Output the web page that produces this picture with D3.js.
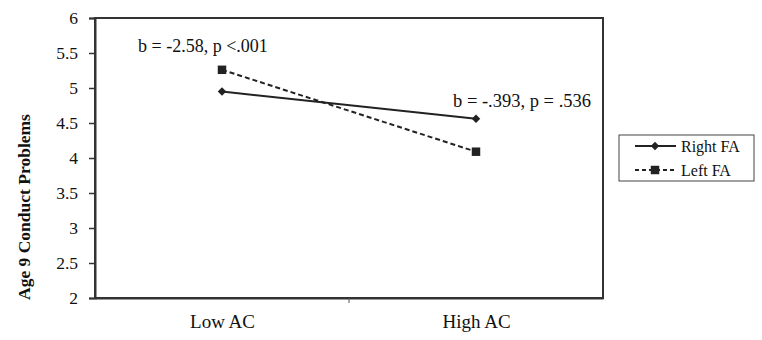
<!DOCTYPE html>
<html>
<head>
<meta charset="utf-8">
<script src="https://cdn.jsdelivr.net/npm/d3@7"></script>
<style>
  body { margin: 0; background: #fff; }
  svg { font-family: "Liberation Serif", "Times New Roman", serif; }
</style>
</head>
<body>
<svg id="chart" width="762" height="340"></svg>
<script>
// data
const categories = ['Low AC', 'High AC']
const rightFA = [4.95, 4.56]
const leftFA = [5.26, 4.09]
const yTicks = [2, 2.5, 3, 3.5, 4, 4.5, 5, 5.5, 6]
const seriesNames = ['Right FA', 'Left FA']
const notes = ['b = -2.58, p <.001', 'b = -.393, p = .536']

const svg = d3.select('#chart')
const plot = {left: 95, right: 603, top: 18, bottom: 298}
const ink = '#222'
const serif = '"Liberation Serif", "Times New Roman", serif'

let x = d3.scalePoint().domain(categories).range([plot.left, plot.right]).padding(0.5)
let xb = d3.scaleBand().domain(categories).range([plot.left, plot.right])
let y = d3.scaleLinear().domain([2, 6]).range([plot.bottom, plot.top])

// plot area border
svg.append('rect')
  .attr('x', plot.left).attr('y', plot.top)
  .attr('width', plot.right - plot.left).attr('height', plot.bottom - plot.top)
  .attr('fill', 'none').attr('stroke', '#333').attr('stroke-width', 2)

// y axis
let ya = svg.append('g')
  .attr('transform', `translate(${plot.left},0)`)
  .call(d3.axisLeft(y).tickValues(yTicks).tickSize(6).tickPadding(11).tickFormat(d3.format('')))
ya.select('.domain').attr('stroke', '#333').attr('stroke-width', 2)
ya.selectAll('.tick line').attr('stroke', '#333').attr('stroke-width', 1.5)
ya.selectAll('text').attr('font-size', 17.5).attr('font-family', serif).attr('fill', '#111')

// x axis: labels at centers, tick between categories
let xa = svg.append('g')
  .attr('transform', `translate(0,${plot.bottom})`)
  .call(d3.axisBottom(x).tickSize(0).tickPadding(17))
xa.select('.domain').attr('stroke', '#333').attr('stroke-width', 2)
xa.selectAll('text').attr('font-size', 19).attr('font-family', serif).attr('fill', '#111')
svg.append('line')
  .attr('x1', xb(categories[1])).attr('x2', xb(categories[1]))
  .attr('y1', plot.bottom).attr('y2', plot.bottom + 5)
  .attr('stroke', '#555').attr('stroke-width', 1)

// y title
svg.append('text')
  .attr('transform', `translate(26,207) rotate(-90)`)
  .attr('text-anchor', 'middle')
  .attr('dominant-baseline', 'middle')
  .attr('font-weight', 'bold')
  .attr('font-size', 17.5)
  .attr('fill', '#111')
  .text('Age 9 Conduct Problems')

// series
let series = [
  {name: seriesNames[0], values: rightFA, dash: null, shape: 'diamond'},
  {name: seriesNames[1], values: leftFA, dash: '5,3', shape: 'square'}
]

let line = d3.line()
  .x((d, i) => x(categories[i]))
  .y((d) => y(d))

function marker (g, shape, cx, cy) {
  if (shape === 'diamond') {
    g.append('path')
      .attr('d', d3.symbol(d3.symbolSquare, 36)())
      .attr('transform', `translate(${cx},${cy}) rotate(45)`)
      .attr('fill', ink)
  } else {
    g.append('path')
      .attr('d', d3.symbol(d3.symbolSquare, 72)())
      .attr('transform', `translate(${cx},${cy})`)
      .attr('fill', ink)
  }
}

series.forEach((s) => {
  svg.append('path')
    .datum(s.values)
    .attr('d', line)
    .attr('fill', 'none')
    .attr('stroke', ink)
    .attr('stroke-width', 2)
    .attr('stroke-dasharray', s.dash)
  let g = svg.append('g')
  s.values.forEach((v, i) => marker(g, s.shape, x(categories[i]), y(v)))
})

// annotations
svg.append('text')
  .attr('x', 138).attr('y', 52)
  .attr('font-size', 18).attr('fill', '#111')
  .text(notes[0])
svg.append('text')
  .attr('x', 453).attr('y', 107)
  .attr('font-size', 18.5).attr('fill', '#111')
  .text(notes[1])

// legend
let lg = svg.append('g')
lg.append('rect')
  .attr('x', 619).attr('y', 135)
  .attr('width', 135).attr('height', 46)
  .attr('fill', '#fff').attr('stroke', '#444').attr('stroke-width', 1)
series.forEach((s, i) => {
  let ly = 146 + i * 24
  lg.append('line')
    .attr('x1', 635).attr('x2', 676)
    .attr('y1', ly).attr('y2', ly)
    .attr('stroke', ink).attr('stroke-width', 2)
    .attr('stroke-dasharray', s.dash ? '4,3' : null)
  marker(lg, s.shape, 655, ly)
  lg.append('text')
    .attr('x', 681).attr('y', ly + 5.5)
    .attr('font-size', 16).attr('fill', '#111')
    .text(s.name)
})
</script>
</body>
</html>
